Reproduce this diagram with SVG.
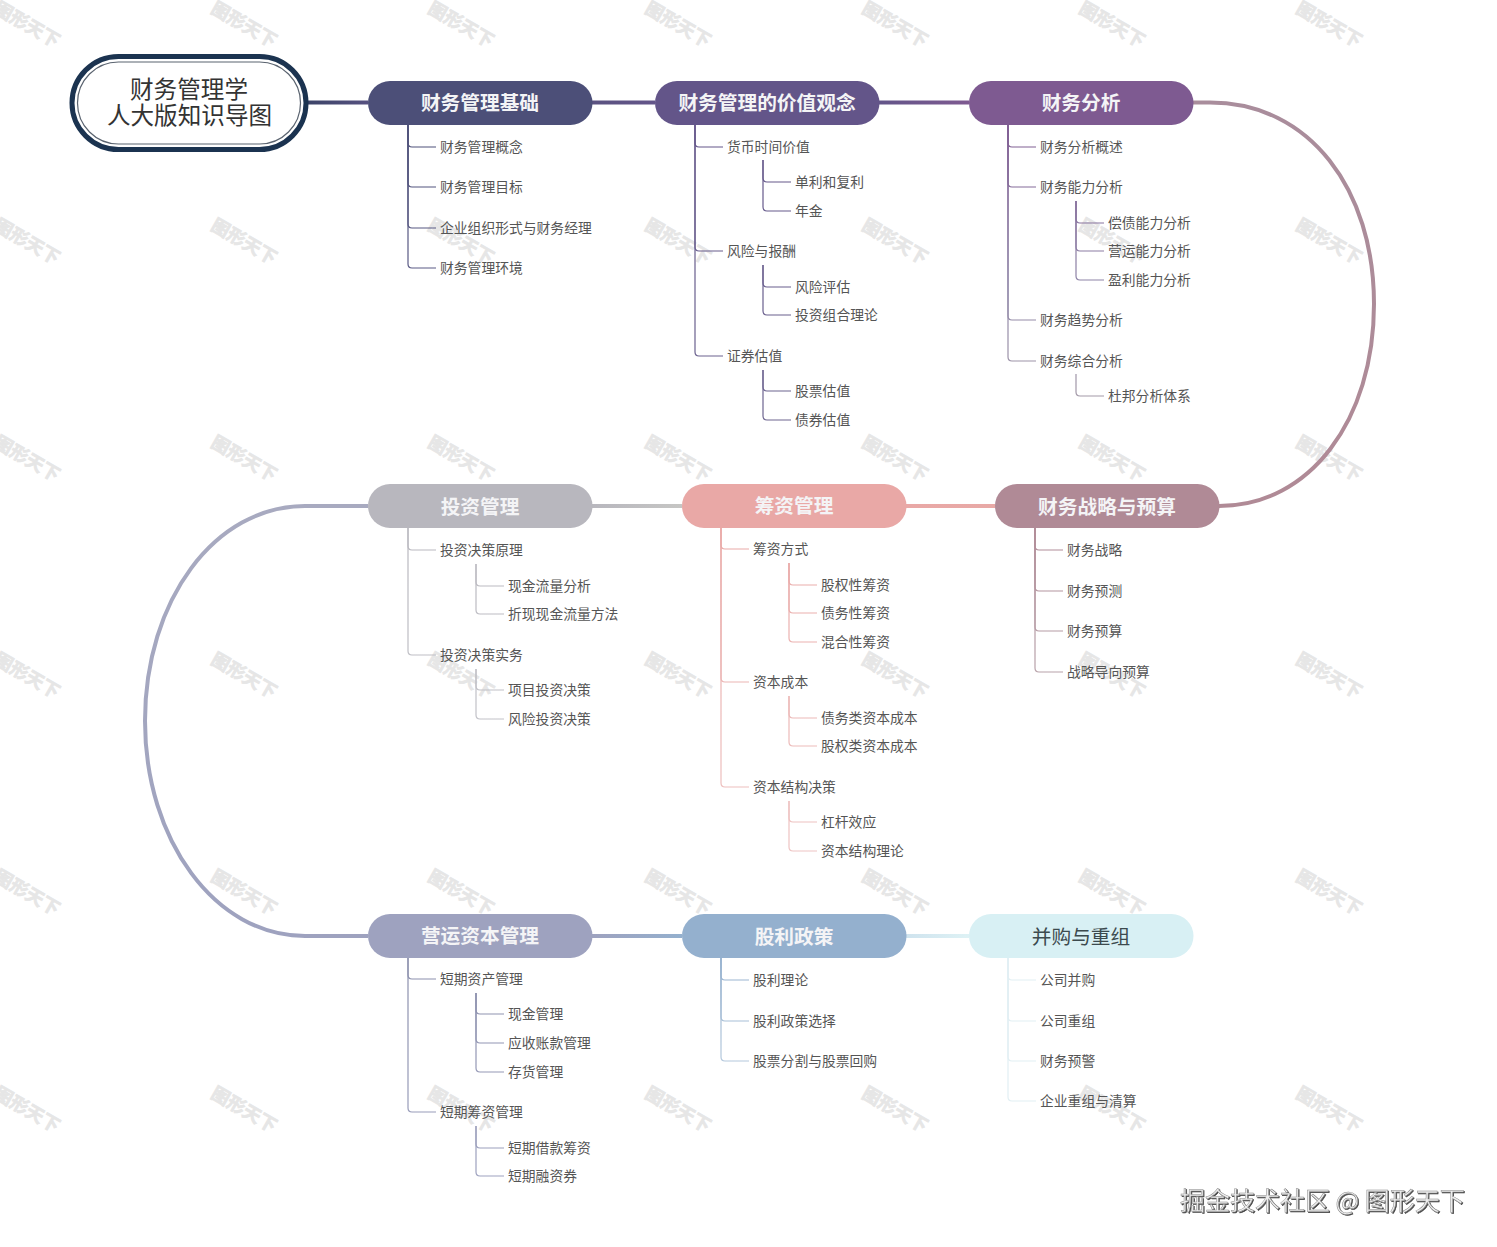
<svg xmlns="http://www.w3.org/2000/svg" width="1497" height="1247" viewBox="0 0 1497 1247">
<style>
text{font-family:"Noto Sans CJK SC","Liberation Sans",sans-serif}
.wm{font-size:18px;font-weight:700;fill:#e6e6e6;stroke:#e6e6e6;stroke-width:.7px;text-anchor:middle}
.c{font-size:13.8px;fill:#555}
.b{font-size:19.7px;font-weight:700;fill:#f4f4f6;text-anchor:middle}
.r{font-size:23.6px;fill:#333;text-anchor:middle}
.t{fill:none;stroke-width:4}
.l{fill:none;stroke-width:1.2}
.credit{font-size:25px;fill:#eee;stroke:#888;stroke-width:.5px;filter:url(#sh)}
</style>
<defs>
<filter id="sh" x="-5%" y="-20%" width="110%" height="140%"><feDropShadow dx="1" dy="1" stdDeviation=".3" flood-color="#444"/></filter>
<linearGradient id="g1" gradientUnits="userSpaceOnUse" x1="0" y1="125" x2="0" y2="270"><stop offset="0" stop-color="#4c4f78"/><stop offset="1" stop-color="#5a5a85"/></linearGradient>
<linearGradient id="g2" gradientUnits="userSpaceOnUse" x1="0" y1="125" x2="0" y2="420"><stop offset="0" stop-color="#635589"/><stop offset="1" stop-color="#6d6590"/></linearGradient>
<linearGradient id="g3" gradientUnits="userSpaceOnUse" x1="0" y1="125" x2="0" y2="400"><stop offset="0" stop-color="#7e5a91"/><stop offset=".6" stop-color="#8f86a8"/><stop offset="1" stop-color="#a49aa8"/></linearGradient>
<linearGradient id="g4" gradientUnits="userSpaceOnUse" x1="0" y1="528" x2="0" y2="672"><stop offset="0" stop-color="#b08a96"/><stop offset="1" stop-color="#b8a2aa"/></linearGradient>
<linearGradient id="g5" gradientUnits="userSpaceOnUse" x1="0" y1="528" x2="0" y2="851"><stop offset="0" stop-color="#e9a8a6"/><stop offset="1" stop-color="#eec4c3"/></linearGradient>
<linearGradient id="g6" gradientUnits="userSpaceOnUse" x1="0" y1="528" x2="0" y2="720"><stop offset="0" stop-color="#b8b7be"/><stop offset="1" stop-color="#c2c2c8"/></linearGradient>
<linearGradient id="g7" gradientUnits="userSpaceOnUse" x1="0" y1="958" x2="0" y2="1176"><stop offset="0" stop-color="#8a8eab"/><stop offset="1" stop-color="#9ea2bf"/></linearGradient>
<linearGradient id="g8" gradientUnits="userSpaceOnUse" x1="0" y1="958" x2="0" y2="1061"><stop offset="0" stop-color="#94b0ce"/><stop offset="1" stop-color="#b4c8dc"/></linearGradient>
<linearGradient id="tr1" gradientUnits="userSpaceOnUse" x1="308" y1="0" x2="368" y2="0"><stop offset="0" stop-color="#3d4468"/><stop offset="1" stop-color="#565180"/></linearGradient>
<linearGradient id="tr2" gradientUnits="userSpaceOnUse" x1="592" y1="0" x2="655" y2="0"><stop offset="0" stop-color="#5a5280"/><stop offset="1" stop-color="#635589"/></linearGradient>
<linearGradient id="tr3" gradientUnits="userSpaceOnUse" x1="879" y1="0" x2="969" y2="0"><stop offset="0" stop-color="#635589"/><stop offset="1" stop-color="#7e5a91"/></linearGradient>
<linearGradient id="tr4" gradientUnits="userSpaceOnUse" x1="1193" y1="102" x2="1219" y2="506"><stop offset="0" stop-color="#a98d9c"/><stop offset="1" stop-color="#b08a96"/></linearGradient>
<linearGradient id="tr5" gradientUnits="userSpaceOnUse" x1="906" y1="0" x2="995" y2="0"><stop offset="0" stop-color="#e9a8a6"/><stop offset="1" stop-color="#e8a9a6"/></linearGradient>
<linearGradient id="tr6" gradientUnits="userSpaceOnUse" x1="592" y1="0" x2="682" y2="0"><stop offset="0" stop-color="#b8b7be"/><stop offset="1" stop-color="#c6c6c4"/></linearGradient>
<linearGradient id="tr7" gradientUnits="userSpaceOnUse" x1="0" y1="506" x2="0" y2="936"><stop offset="0" stop-color="#a8aac0"/><stop offset="1" stop-color="#9ea2bf"/></linearGradient>
<linearGradient id="tr8" gradientUnits="userSpaceOnUse" x1="592" y1="0" x2="682" y2="0"><stop offset="0" stop-color="#9ea2bf"/><stop offset="1" stop-color="#94b0ce"/></linearGradient>
<linearGradient id="tr9" gradientUnits="userSpaceOnUse" x1="906" y1="0" x2="969" y2="0"><stop offset="0" stop-color="#cfe3ee"/><stop offset="1" stop-color="#def2f5"/></linearGradient>
</defs>
<rect width="1497" height="1247" fill="#fff"/>
<g id="watermarks" transform="translate(-2,5)">
<text class="wm" transform="translate(26,25) rotate(30)">图形天下</text><text class="wm" transform="translate(243,25) rotate(30)">图形天下</text><text class="wm" transform="translate(460,25) rotate(30)">图形天下</text><text class="wm" transform="translate(677,25) rotate(30)">图形天下</text><text class="wm" transform="translate(894,25) rotate(30)">图形天下</text><text class="wm" transform="translate(1111,25) rotate(30)">图形天下</text><text class="wm" transform="translate(1328,25) rotate(30)">图形天下</text>
<text class="wm" transform="translate(26,242) rotate(30)">图形天下</text><text class="wm" transform="translate(243,242) rotate(30)">图形天下</text><text class="wm" transform="translate(460,242) rotate(30)">图形天下</text><text class="wm" transform="translate(677,242) rotate(30)">图形天下</text><text class="wm" transform="translate(894,242) rotate(30)">图形天下</text><text class="wm" transform="translate(1111,242) rotate(30)">图形天下</text><text class="wm" transform="translate(1328,242) rotate(30)">图形天下</text>
<text class="wm" transform="translate(26,459) rotate(30)">图形天下</text><text class="wm" transform="translate(243,459) rotate(30)">图形天下</text><text class="wm" transform="translate(460,459) rotate(30)">图形天下</text><text class="wm" transform="translate(677,459) rotate(30)">图形天下</text><text class="wm" transform="translate(894,459) rotate(30)">图形天下</text><text class="wm" transform="translate(1111,459) rotate(30)">图形天下</text><text class="wm" transform="translate(1328,459) rotate(30)">图形天下</text>
<text class="wm" transform="translate(26,676) rotate(30)">图形天下</text><text class="wm" transform="translate(243,676) rotate(30)">图形天下</text><text class="wm" transform="translate(460,676) rotate(30)">图形天下</text><text class="wm" transform="translate(677,676) rotate(30)">图形天下</text><text class="wm" transform="translate(894,676) rotate(30)">图形天下</text><text class="wm" transform="translate(1111,676) rotate(30)">图形天下</text><text class="wm" transform="translate(1328,676) rotate(30)">图形天下</text>
<text class="wm" transform="translate(26,893) rotate(30)">图形天下</text><text class="wm" transform="translate(243,893) rotate(30)">图形天下</text><text class="wm" transform="translate(460,893) rotate(30)">图形天下</text><text class="wm" transform="translate(677,893) rotate(30)">图形天下</text><text class="wm" transform="translate(894,893) rotate(30)">图形天下</text><text class="wm" transform="translate(1111,893) rotate(30)">图形天下</text><text class="wm" transform="translate(1328,893) rotate(30)">图形天下</text>
<text class="wm" transform="translate(26,1110) rotate(30)">图形天下</text><text class="wm" transform="translate(243,1110) rotate(30)">图形天下</text><text class="wm" transform="translate(460,1110) rotate(30)">图形天下</text><text class="wm" transform="translate(677,1110) rotate(30)">图形天下</text><text class="wm" transform="translate(894,1110) rotate(30)">图形天下</text><text class="wm" transform="translate(1111,1110) rotate(30)">图形天下</text><text class="wm" transform="translate(1328,1110) rotate(30)">图形天下</text>
</g>
<g id="connectors">
<path class="t" stroke="url(#tr1)" d="M308 102.500H368"/>
<path class="t" stroke="url(#tr2)" d="M592 102.500H655"/>
<path class="t" stroke="url(#tr3)" d="M879 102.500H969"/>
<path class="t" stroke="url(#tr4)" d="M1193 102.500H1210C1310 102.500 1374 190 1374 304C1374 420 1310 506 1219 506"/>
<path class="t" stroke="url(#tr5)" d="M995 506H906"/>
<path class="t" stroke="url(#tr6)" d="M682 506H592"/>
<path class="t" stroke="url(#tr7)" d="M368 506H305C215 506 145 600 145 721C145 840 215 936 305 936H368"/>
<path class="t" stroke="url(#tr8)" d="M592 936H682"/>
<path class="t" stroke="url(#tr9)" d="M906 936H969"/>
<g stroke="url(#g1)">
<path class="l" d="M408 125V143Q408 147 412 147H436"/><path class="l" d="M408 125V183Q408 187 412 187H436"/><path class="l" d="M408 125V224Q408 228 412 228H436"/><path class="l" d="M408 125V264Q408 268 412 268H436"/>
</g>
<g stroke="url(#g2)">
<path class="l" d="M695 125V143Q695 147 699 147H723"/><path class="l" d="M695 125V247Q695 251 699 251H723"/><path class="l" d="M695 125V352Q695 356 699 356H723"/>
<path class="l" d="M763 160V178Q763 182 767 182H791"/><path class="l" d="M763 160V207Q763 211 767 211H791"/>
<path class="l" d="M763 265V283Q763 287 767 287H791"/><path class="l" d="M763 265V311Q763 315 767 315H791"/>
<path class="l" d="M763 370V387Q763 391 767 391H791"/><path class="l" d="M763 370V416Q763 420 767 420H791"/>
</g>
<g stroke="url(#g3)">
<path class="l" d="M1008 125V143Q1008 147 1012 147H1036"/><path class="l" d="M1008 125V183Q1008 187 1012 187H1036"/><path class="l" d="M1008 125V316Q1008 320 1012 320H1036"/><path class="l" d="M1008 125V357Q1008 361 1012 361H1036"/>
<path class="l" d="M1076 201V219Q1076 223 1080 223H1104"/><path class="l" d="M1076 201V247Q1076 251 1080 251H1104"/><path class="l" d="M1076 201V276Q1076 280 1080 280H1104"/>
<path class="l" d="M1076 374V392Q1076 396 1080 396H1104"/>
</g>
<g stroke="url(#g4)">
<path class="l" d="M1035 528V546Q1035 550 1039 550H1063"/><path class="l" d="M1035 528V587Q1035 591 1039 591H1063"/><path class="l" d="M1035 528V627Q1035 631 1039 631H1063"/><path class="l" d="M1035 528V668Q1035 672 1039 672H1063"/>
</g>
<g stroke="url(#g5)">
<path class="l" d="M721 528V545Q721 549 725 549H749"/><path class="l" d="M721 528V678Q721 682 725 682H749"/><path class="l" d="M721 528V783Q721 787 725 787H749"/>
<path class="l" d="M789 563V581Q789 585 793 585H817"/><path class="l" d="M789 563V609Q789 613 793 613H817"/><path class="l" d="M789 563V638Q789 642 793 642H817"/>
<path class="l" d="M789 696V714Q789 718 793 718H817"/><path class="l" d="M789 696V742Q789 746 793 746H817"/>
<path class="l" d="M789 801V818Q789 822 793 822H817"/><path class="l" d="M789 801V847Q789 851 793 851H817"/>
</g>
<g stroke="url(#g6)">
<path class="l" d="M408 528V546Q408 550 412 550H436"/><path class="l" d="M408 528V651Q408 655 412 655H436"/>
<path class="l" d="M476 564V582Q476 586 480 586H504"/><path class="l" d="M476 564V610Q476 614 480 614H504"/>
<path class="l" d="M476 669V686Q476 690 480 690H504"/><path class="l" d="M476 669V715Q476 719 480 719H504"/>
</g>
<g stroke="url(#g7)">
<path class="l" d="M408 958V975Q408 979 412 979H436"/><path class="l" d="M408 958V1108Q408 1112 412 1112H436"/>
<path class="l" d="M476 993V1010Q476 1014 480 1014H504"/><path class="l" d="M476 993V1039Q476 1043 480 1043H504"/><path class="l" d="M476 993V1068Q476 1072 480 1072H504"/>
<path class="l" d="M476 1126V1144Q476 1148 480 1148H504"/><path class="l" d="M476 1126V1172Q476 1176 480 1176H504"/>
</g>
<g stroke="url(#g8)">
<path class="l" d="M721 958V976Q721 980 725 980H749"/><path class="l" d="M721 958V1017Q721 1021 725 1021H749"/><path class="l" d="M721 958V1057Q721 1061 725 1061H749"/>
</g>
<g stroke="#e2eff3">
<path class="l" d="M1008 958V976Q1008 980 1012 980H1036"/><path class="l" d="M1008 958V1017Q1008 1021 1012 1021H1036"/><path class="l" d="M1008 958V1057Q1008 1061 1012 1061H1036"/><path class="l" d="M1008 958V1097Q1008 1101 1012 1101H1036"/>
</g>
</g>
<g id="root">
<rect x="72" y="56.500" width="234" height="93" rx="46.500" fill="#fff" stroke="#1b3350" stroke-width="5"/>
<rect x="77.500" y="62" width="223" height="82" rx="41" fill="#fff" stroke="#5b6470" stroke-width="1.200"/>
<text class="r" x="189" y="98">财务管理学</text>
<text class="r" x="189.500" y="124">人大版知识导图</text>
</g>
<g id="n1"><rect x="368" y="81" width="224.500" height="44" rx="22" fill="#4c4f78"/><text class="b" x="480" y="110">财务管理基础</text></g>
<g id="n2"><rect x="655" y="81" width="224.500" height="44" rx="22" fill="#635589"/><text class="b" x="767" y="110">财务管理的价值观念</text></g>
<g id="n3"><rect x="969" y="81" width="224.500" height="44" rx="22" fill="#7e5a91"/><text class="b" x="1081" y="110">财务分析</text></g>
<g id="n4"><rect x="995" y="484" width="224.500" height="44" rx="22" fill="#b08a96"/><text class="b" x="1107" y="514">财务战略与预算</text></g>
<g id="n5"><rect x="682" y="484" width="224.500" height="44" rx="22" fill="#e9a8a6"/><text class="b" x="794" y="513">筹资管理</text></g>
<g id="n6"><rect x="368" y="484" width="224.500" height="44" rx="22" fill="#b8b7be"/><text class="b" x="480" y="514">投资管理</text></g>
<g id="n7"><rect x="368" y="914" width="224.500" height="44" rx="22" fill="#9ea2bf"/><text class="b" x="480" y="943">营运资本管理</text></g>
<g id="n8"><rect x="682" y="914" width="224.500" height="44" rx="22" fill="#94b0ce"/><text class="b" x="794" y="944">股利政策</text></g>
<g id="n9"><rect x="969" y="914" width="224.500" height="44" rx="22" fill="#d8f0f4"/><text class="b" x="1081" y="944" style="fill:#3c4a4e;font-weight:400">并购与重组</text></g>
<g id="labels">
<g id="a1"><text class="c" x="440" y="152">财务管理概念</text></g>
<g id="a2"><text class="c" x="440" y="192">财务管理目标</text></g>
<g id="a3"><text class="c" x="440" y="233">企业组织形式与财务经理</text></g>
<g id="a4"><text class="c" x="440" y="273">财务管理环境</text></g>
<g id="b1"><text class="c" x="727" y="152">货币时间价值</text></g>
<g id="b2"><text class="c" x="795" y="187">单利和复利</text></g>
<g id="b3"><text class="c" x="795" y="216">年金</text></g>
<g id="b4"><text class="c" x="727" y="256">风险与报酬</text></g>
<g id="b5"><text class="c" x="795" y="292">风险评估</text></g>
<g id="b6"><text class="c" x="795" y="320">投资组合理论</text></g>
<g id="b7"><text class="c" x="727" y="361">证券估值</text></g>
<g id="b8"><text class="c" x="795" y="396">股票估值</text></g>
<g id="b9"><text class="c" x="795" y="425">债券估值</text></g>
<g id="c1"><text class="c" x="1040" y="152">财务分析概述</text></g>
<g id="c2"><text class="c" x="1040" y="192">财务能力分析</text></g>
<g id="c3"><text class="c" x="1108" y="228">偿债能力分析</text></g>
<g id="c4"><text class="c" x="1108" y="256">营运能力分析</text></g>
<g id="c5"><text class="c" x="1108" y="285">盈利能力分析</text></g>
<g id="c6"><text class="c" x="1040" y="325">财务趋势分析</text></g>
<g id="c7"><text class="c" x="1040" y="366">财务综合分析</text></g>
<g id="c8"><text class="c" x="1108" y="401">杜邦分析体系</text></g>
<g id="d1"><text class="c" x="1067" y="555">财务战略</text></g>
<g id="d2"><text class="c" x="1067" y="596">财务预测</text></g>
<g id="d3"><text class="c" x="1067" y="636">财务预算</text></g>
<g id="d4"><text class="c" x="1067" y="677">战略导向预算</text></g>
<g id="e1"><text class="c" x="753" y="554">筹资方式</text></g>
<g id="e2"><text class="c" x="821" y="590">股权性筹资</text></g>
<g id="e3"><text class="c" x="821" y="618">债务性筹资</text></g>
<g id="e4"><text class="c" x="821" y="647">混合性筹资</text></g>
<g id="e5"><text class="c" x="753" y="687">资本成本</text></g>
<g id="e6"><text class="c" x="821" y="723">债务类资本成本</text></g>
<g id="e7"><text class="c" x="821" y="751">股权类资本成本</text></g>
<g id="e8"><text class="c" x="753" y="792">资本结构决策</text></g>
<g id="e9"><text class="c" x="821" y="827">杠杆效应</text></g>
<g id="e10"><text class="c" x="821" y="856">资本结构理论</text></g>
<g id="f1"><text class="c" x="440" y="555">投资决策原理</text></g>
<g id="f2"><text class="c" x="508" y="591">现金流量分析</text></g>
<g id="f3"><text class="c" x="508" y="619">折现现金流量方法</text></g>
<g id="f4"><text class="c" x="440" y="660">投资决策实务</text></g>
<g id="f5"><text class="c" x="508" y="695">项目投资决策</text></g>
<g id="f6"><text class="c" x="508" y="724">风险投资决策</text></g>
<g id="h1"><text class="c" x="440" y="984">短期资产管理</text></g>
<g id="h2"><text class="c" x="508" y="1019">现金管理</text></g>
<g id="h3"><text class="c" x="508" y="1048">应收账款管理</text></g>
<g id="h4"><text class="c" x="508" y="1077">存货管理</text></g>
<g id="h5"><text class="c" x="440" y="1117">短期筹资管理</text></g>
<g id="h6"><text class="c" x="508" y="1153">短期借款筹资</text></g>
<g id="h7"><text class="c" x="508" y="1181">短期融资券</text></g>
<g id="i1"><text class="c" x="753" y="985">股利理论</text></g>
<g id="i2"><text class="c" x="753" y="1026">股利政策选择</text></g>
<g id="i3"><text class="c" x="753" y="1066">股票分割与股票回购</text></g>
<g id="j1"><text class="c" x="1040" y="985">公司并购</text></g>
<g id="j2"><text class="c" x="1040" y="1026">公司重组</text></g>
<g id="j3"><text class="c" x="1040" y="1066">财务预警</text></g>
<g id="j4"><text class="c" x="1040" y="1106">企业重组与清算</text></g>
</g>
<text class="credit" x="1180" y="1210">掘金技术社区 @ 图形天下</text>
</svg>
